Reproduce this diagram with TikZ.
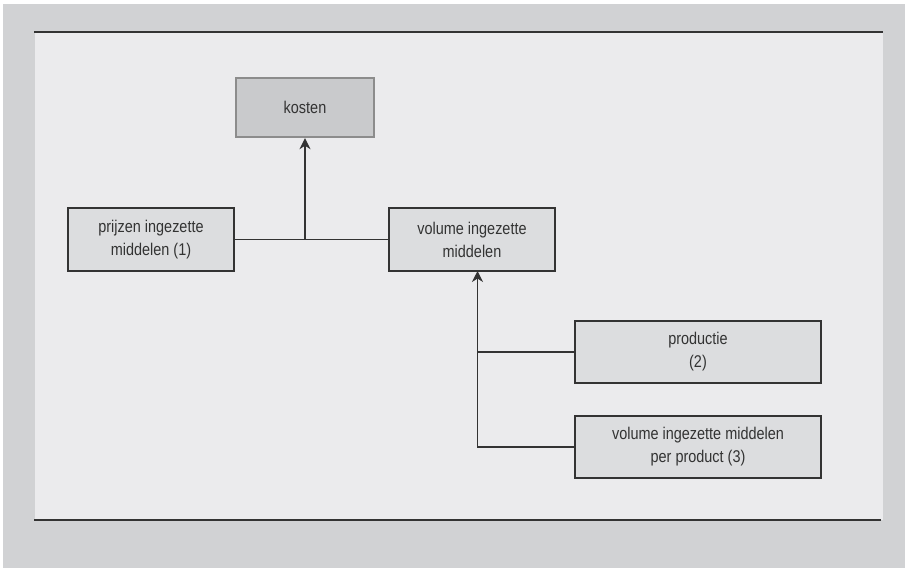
\documentclass[tikz,border=0pt]{standalone}
\usepackage{fontspec}
\setmainfont[FakeStretch=0.85]{Liberation Sans}
\usetikzlibrary{arrows.meta}
\definecolor{outerbg}{HTML}{D1D2D4}
\definecolor{panelbg}{HTML}{EBEBED}
\definecolor{boxfill}{HTML}{DCDDDF}
\definecolor{topfill}{HTML}{C9CACC}
\definecolor{topborder}{HTML}{8C8C8C}
\definecolor{ink}{HTML}{333333}
\tikzset{
  box/.style={draw=ink, line width=1.6pt, fill=boxfill, text=ink, align=center,
    inner sep=0pt, font=\fontsize{17}{23}\selectfont},
  topbox/.style={box, draw=topborder, line width=2.4pt, fill=topfill},
  conn/.style={draw=ink, line width=1.3pt},
  arr/.style={conn, -{Stealth[length=11pt,width=11pt,inset=3.5pt]}},
  rule/.style={draw=ink, line width=1.4pt}
}
\begin{document}
\begin{tikzpicture}[x=1pt,y=-1pt]
\useasboundingbox (0,0) rectangle (905,568);
\fill[white] (0,0) rectangle (905,568);
\fill[outerbg] (3,4) rectangle (905,568);
\fill[panelbg] (35,32) rectangle (883,520);
\draw[rule] (34,32) -- (883,32);
\draw[rule] (34,520) -- (881,520);

\node[topbox, minimum width=138pt, minimum height=59pt] (kosten) at (305,107.5) {kosten};
\node[box, minimum width=166pt, minimum height=63pt] (prijzen) at (151,239.5) {prijzen ingezette\\middelen (1)};
\node[box, minimum width=166pt, minimum height=63pt] (volume) at (472,239.5) {volume ingezette\\middelen};
\node[box, minimum width=246pt, minimum height=62pt] (productie) at (698,352) {productie\\(2)};
\node[box, minimum width=246pt, minimum height=62pt] (perprod) at (698,447) {volume ingezette middelen\\per product (3)};

\coordinate (j1) at (kosten.south |- prijzen.east);
\coordinate (j2) at (477.5,271);

\draw[conn] (prijzen.east) -- (volume.west);
\draw[arr] (j1) -- (kosten.south);
\draw[arr] (perprod.west) -| (j2);
\draw[conn] (productie.west) -- (productie.west -| j2);
\end{tikzpicture}
\end{document}
